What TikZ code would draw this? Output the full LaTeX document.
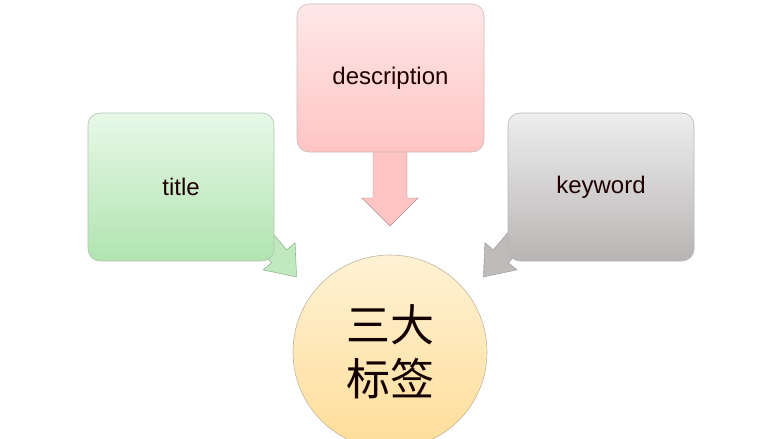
\documentclass[tikz,border=0pt]{standalone}
\usepackage{fontspec}
\setmainfont{Liberation Sans}
\newfontfamily\cjk{Noto Sans CJK SC}
\begin{document}
\begin{tikzpicture}[x=1pt,y=-1pt,
  boxst/.style={rounded corners=12pt,draw=#1!60!black!50,line width=0.6pt},
  lbl/.style={font=\fontsize{24}{28}\selectfont,text=black!80!red!60!black}]
\useasboundingbox (0,0) rectangle (782,439);
\definecolor{gA}{HTML}{E8F8E8}\definecolor{gB}{HTML}{B0E4B0}
\definecolor{pA}{HTML}{FFE8E8}\definecolor{pB}{HTML}{FFC4C4}
\definecolor{kA}{HTML}{EEEEEE}\definecolor{kB}{HTML}{B8B4B4}
\definecolor{cA}{HTML}{FFF2D4}\definecolor{cB}{HTML}{FFDD99}
% green arrow
\begin{scope}[shift={(250,222)},rotate=-49.7]
\fill[gB!80!white,draw=gB!70!black,line width=0.4pt] (0,-10)--(45,-10)--(45,-21)--(72,0)--(45,21)--(45,10)--(0,10)--cycle;
\end{scope}
% gray arrow
\begin{scope}[shift={(530,222)},rotate=229.7]
\fill[kB!90!white,draw=kB!80!black,line width=0.4pt] (0,-10)--(45,-10)--(45,-21)--(72,0)--(45,21)--(45,10)--(0,10)--cycle;
\end{scope}
% pink arrow
\fill[pB,draw=pB!70!black,line width=0.4pt] (373,140)--(407,140)--(407,198)--(418,198)--(390,226)--(362,198)--(373,198)--cycle;
\node[boxst=gB,top color=gA,bottom color=gB,minimum width=186pt,minimum height=148pt,inner sep=0pt,lbl] (title) at (181,187) {title};
\node[boxst=pB,top color=pA,bottom color=pB,minimum width=187pt,minimum height=148pt,inner sep=0pt,lbl] (desc) at (390.5,78) {description};
\node[boxst=kB,top color=kA,bottom color=kB,minimum width=186pt,minimum height=148pt,inner sep=0pt,lbl] (kw) at (601,187) {keyword};
\node[circle,draw=cB!60!black!60,line width=0.6pt,top color=cA,bottom color=cB,minimum size=194pt,inner sep=0pt,
  font=\cjk\fontsize{44}{54}\selectfont,align=center,text=black!85!red!50!black] (c) at (390,352) {三大\\标签};
\end{tikzpicture}
\end{document}
